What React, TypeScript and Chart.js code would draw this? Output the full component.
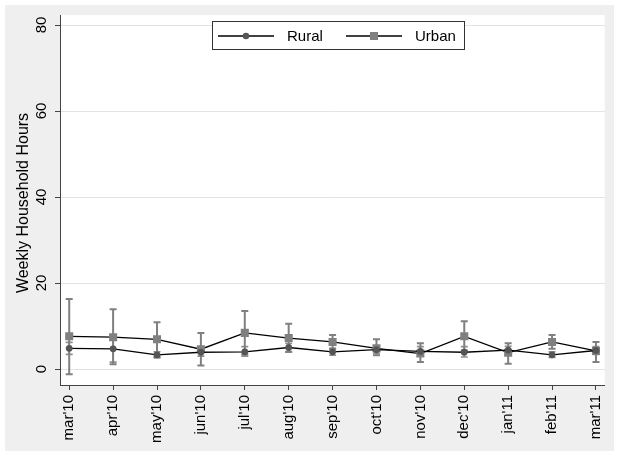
import React, { useEffect, useRef } from "react";
import { Chart, registerables } from "chart.js";

Chart.register(...registerables);

// Monthly survey rounds
const months = [
  "mar'10", "apr'10", "may'10", "jun'10", "jul'10", "aug'10", "sep'10",
  "oct'10", "nov'10", "dec'10", "jan'11", "feb'11", "mar'11",
];

// Mean weekly household hours with confidence bounds
const rural = [4.8, 4.7, 3.3, 3.9, 4.0, 5.0, 4.0, 4.5, 4.1, 3.9, 4.4, 3.3, 4.3];
const ruralLow = [3.4, 1.6, 2.6, 3.0, 3.0, 3.9, 3.2, 3.6, 3.0, 2.8, 3.5, 2.7, 3.4];
const ruralHigh = [6.2, 7.6, 4.0, 4.8, 5.2, 6.0, 4.8, 5.4, 5.2, 5.2, 5.3, 4.0, 5.2];

const urban = [7.6, 7.4, 6.9, 4.6, 8.4, 7.2, 6.3, 4.8, 3.6, 7.6, 3.8, 6.3, 4.2];
const urbanLow = [-1.2, 1.1, 2.8, 0.8, 3.4, 4.0, 4.7, 3.2, 1.6, 4.3, 1.2, 4.7, 1.6];
const urbanHigh = [16.3, 13.9, 10.9, 8.4, 13.5, 10.5, 7.9, 6.9, 6.0, 11.1, 6.0, 7.9, 6.3];

const yTicks = [0, 20, 40, 60, 80];
const yTitle = "Weekly Household Hours";

const FONT = "'Liberation Sans', Arial, sans-serif";
const RURAL_COLOR = "#555555";
const URBAN_COLOR = "#808080";

const toPoints = (vals: number[]) => vals.map((y, x) => ({ x, y }));

const backgroundPlugin = {
  id: "stataBackground",
  beforeDraw(chart: any) {
    const { ctx, chartArea, width, height } = chart;
    ctx.save();
    ctx.fillStyle = "#ffffff";
    ctx.fillRect(0, 0, width, height);
    ctx.fillStyle = "#efefef";
    ctx.fillRect(5, 5, width - 10, height - 10);
    ctx.fillStyle = "#ffffff";
    ctx.fillRect(chartArea.left, chartArea.top, chartArea.right - chartArea.left, chartArea.bottom - chartArea.top);
    ctx.restore();
  },
};

const errorBarPlugin = {
  id: "errorBars",
  beforeDatasetsDraw(chart: any) {
    const { ctx, scales } = chart;
    const xs = scales.x;
    const ys = scales.y;
    const bars = [
      { low: ruralLow, high: ruralHigh, color: "#8f8f8f", width: 1.6 },
      { low: urbanLow, high: urbanHigh, color: URBAN_COLOR, width: 2 },
    ];
    ctx.save();
    bars.forEach((b) => {
      ctx.strokeStyle = b.color;
      ctx.lineWidth = b.width;
      b.low.forEach((lo, i) => {
        const x = xs.getPixelForValue(i);
        const y1 = ys.getPixelForValue(lo);
        const y2 = ys.getPixelForValue(b.high[i]);
        ctx.beginPath();
        ctx.moveTo(x, y1);
        ctx.lineTo(x, y2);
        ctx.moveTo(x - 3.5, y1);
        ctx.lineTo(x + 3.5, y1);
        ctx.moveTo(x - 3.5, y2);
        ctx.lineTo(x + 3.5, y2);
        ctx.stroke();
      });
    });
    ctx.restore();
  },
};

const axisTextPlugin = {
  id: "axisText",
  afterDraw(chart: any) {
    const { ctx, scales, chartArea } = chart;
    const ys = scales.y;
    ctx.save();
    ctx.fillStyle = "#000000";
    ctx.textAlign = "center";
    ctx.textBaseline = "alphabetic";
    ctx.font = `15px ${FONT}`;
    yTicks.forEach((v) => {
      ctx.save();
      ctx.translate(46, ys.getPixelForValue(v));
      ctx.rotate(-Math.PI / 2);
      ctx.fillText(String(v), 0, 0);
      ctx.restore();
    });
    ctx.font = `16px ${FONT}`;
    ctx.translate(28, (chartArea.top + chartArea.bottom) / 2 + 3);
    ctx.rotate(-Math.PI / 2);
    ctx.fillText(yTitle, 0, 0);
    ctx.restore();
  },
};

const legendPlugin = {
  id: "boxLegend",
  afterDraw(chart: any) {
    const { ctx } = chart;
    const bx = 212;
    const by = 21;
    const bw = 252;
    const bh = 28;
    const cy = by + bh / 2 + 1;
    ctx.save();
    ctx.fillStyle = "#ffffff";
    ctx.fillRect(bx, by, bw, bh);
    ctx.strokeStyle = "#333333";
    ctx.lineWidth = 1;
    ctx.strokeRect(bx + 0.5, by + 0.5, bw, bh);

    const items = chart.data.datasets.map((d: any, i: number) => ({
      label: d.label,
      color: d.pointBackgroundColor,
      square: i === 1,
      x0: i === 0 ? 218 : 346,
    }));
    items.forEach((it: any) => {
      ctx.strokeStyle = "#000000";
      ctx.lineWidth = 1.3;
      ctx.beginPath();
      ctx.moveTo(it.x0, cy);
      ctx.lineTo(it.x0 + 56, cy);
      ctx.stroke();
      ctx.fillStyle = it.color;
      const mx = it.x0 + 28;
      if (it.square) {
        ctx.fillRect(mx - 4, cy - 4, 8, 8);
      } else {
        ctx.beginPath();
        ctx.arc(mx, cy, 3.3, 0, Math.PI * 2);
        ctx.fill();
      }
      ctx.fillStyle = "#000000";
      ctx.font = `15px ${FONT}`;
      ctx.textAlign = "left";
      ctx.textBaseline = "middle";
      ctx.fillText(it.label, it.x0 + 69, cy + 1);
    });
    ctx.restore();
  },
};

export default function App() {
  const canvasRef = useRef<HTMLCanvasElement | null>(null);

  useEffect(() => {
    const canvas = canvasRef.current;
    if (!canvas) return;
    const chart = new Chart(canvas, {
      type: "line",
      data: {
        datasets: [
          {
            label: "Rural",
            data: toPoints(rural),
            borderColor: "#000000",
            borderWidth: 1.3,
            pointStyle: "circle",
            pointRadius: 3.4,
            pointBackgroundColor: RURAL_COLOR,
            pointBorderColor: RURAL_COLOR,
            pointBorderWidth: 0,
            tension: 0,
          },
          {
            label: "Urban",
            data: toPoints(urban),
            borderColor: "#000000",
            borderWidth: 1.3,
            pointStyle: "rect",
            pointRadius: 5.7,
            pointBackgroundColor: URBAN_COLOR,
            pointBorderColor: URBAN_COLOR,
            pointBorderWidth: 0,
            tension: 0,
          },
        ],
      },
      options: {
        animation: false,
        responsive: false,
        devicePixelRatio: 1,
        layout: { padding: { top: 15, right: 3, bottom: 0, left: 0 }, autoPadding: false },
        plugins: { legend: { display: false }, tooltip: { enabled: false } },
        scales: {
          x: {
            type: "linear",
            min: -0.21,
            max: 12.2,
            afterBuildTicks: (scale: any) => {
              scale.ticks = months.map((_, i) => ({ value: i }));
            },
            afterFit: (scale: any) => {
              scale.height = 71;
            },
            ticks: {
              autoSkip: false,
              maxRotation: 90,
              minRotation: 90,
              padding: 5,
              color: "#000000",
              font: { family: FONT, size: 15 },
              callback: (v: any) => months[Math.round(Number(v))],
            },
            grid: { drawOnChartArea: false, tickLength: 5, tickColor: "#444444", tickWidth: 1 },
            border: { display: true, color: "#444444", width: 1 },
          },
          y: {
            type: "linear",
            min: -3.72,
            max: 82.33,
            afterBuildTicks: (scale: any) => {
              scale.ticks = yTicks.map((v) => ({ value: v }));
            },
            afterFit: (scale: any) => {
              scale.width = 60;
            },
            ticks: { display: false },
            grid: { color: "#e3e3e3", lineWidth: 1, tickLength: 5, tickColor: "#444444", tickWidth: 1 },
            border: { display: true, color: "#444444", width: 1 },
          },
        },
      },
      plugins: [backgroundPlugin, errorBarPlugin, axisTextPlugin, legendPlugin],
    });
    return () => chart.destroy();
  }, []);

  return (
    <div style={{ position: "fixed", left: 0, top: 0, width: 619, height: 456 }}>
      <canvas ref={canvasRef} width={619} height={456} style={{ width: 619, height: 456 }} />
    </div>
  );
}
